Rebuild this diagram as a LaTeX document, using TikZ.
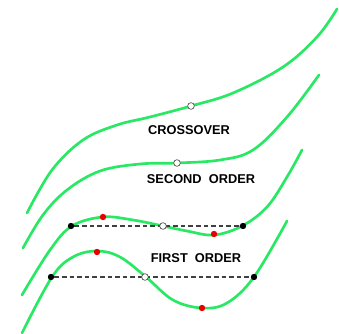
\documentclass[tikz,border=0pt]{standalone}
\usepackage{fontspec}
\setmainfont{Liberation Sans}
\definecolor{curvegreen}{RGB}{40,232,100}
\definecolor{dotred}{RGB}{235,0,0}
\tikzset{
  curve/.style={curvegreen, line width=2pt, line cap=round},
  blackdot/.style={circle, fill=black, inner sep=0pt, minimum size=4.8pt},
  reddot/.style={circle, fill=dotred, inner sep=0pt, minimum size=4.8pt},
  whitedot/.style={circle, fill=white, draw=black!70, line width=0.5pt, inner sep=0pt, minimum size=5pt},
  lbl/.style={font=\bfseries\fontsize{9.6}{11}\selectfont, inner sep=0pt},
  guide/.style={black!75, line width=0.9pt, dash pattern=on 3.4pt off 2.3pt}
}
\begin{document}
\begin{tikzpicture}[x=0.75pt,y=-0.75pt]
\useasboundingbox (0,0) rectangle (339,334);
% crossover curve
\draw[curve] plot[smooth, tension=0.6] coordinates {(27,213) (52,170) (83,140) (117,125) (150,117) (191,106) (233,93) (283,67) (317,37) (337,9)};
% second order curve
\draw[curve] plot[smooth, tension=0.6] coordinates {(23,248) (43,215) (67,190) (100,171) (140,164) (177,163) (220,160) (253,150) (287,117) (319,75)};
% third curve
\draw[curve] plot[smooth, tension=0.6] coordinates {(22,295) (50,250) (72,226) (103,217) (133,220) (163,226) (187,231) (214,235) (242,226) (267,207) (287,177) (302,150)};
% first order curve
\draw[curve] plot[smooth, tension=0.6] coordinates {(22,333) (52,277) (73,257) (97,251) (120,257) (146,277) (173,300) (202,308) (227,303) (254,277) (287,221)};

% dots
\node[whitedot] (c1) at (191,106) {};
\node[whitedot] (s1) at (177,163) {};

\node[blackdot] (a1) at (71,226) {};
\node[blackdot] (a2) at (243,226) {};
\draw[guide] (a1) -- (a2);
\node[reddot] (ar1) at (103,217) {};
\node[reddot] (ar2) at (214,234) {};
\node[whitedot] (aw) at (163,226) {};

\node[blackdot] (b1) at (51,277) {};
\node[blackdot] (b2) at (254,277) {};
\draw[guide] (b1) -- (b2);
\node[reddot] (br1) at (97,252) {};
\node[reddot] (br2) at (202,308) {};
\node[whitedot] (bw) at (145,277) {};

% labels
\node[lbl] (l1) at (189,130) {CROSSOVER};
\node[lbl] (l2) at (201,179) {SECOND\ \ ORDER};
\node[lbl] (l3) at (196,258) {FIRST\ \ ORDER};
\end{tikzpicture}
\end{document}
